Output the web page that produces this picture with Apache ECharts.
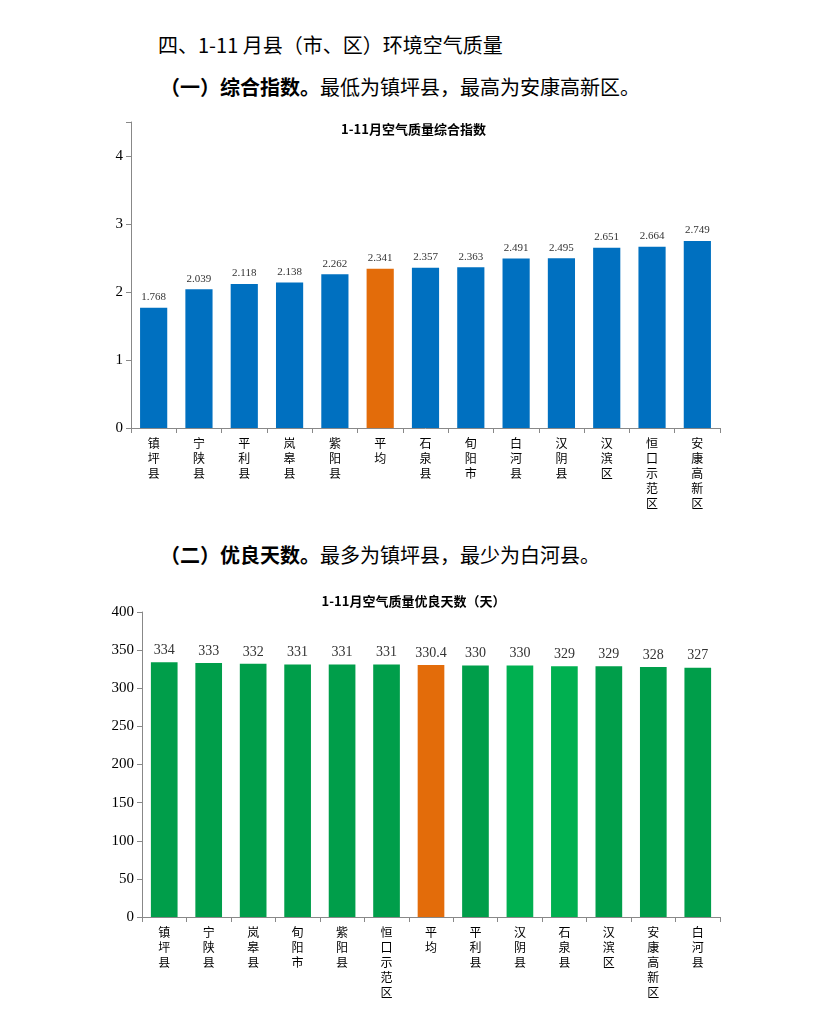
<!DOCTYPE html>
<html><head><meta charset="utf-8">
<script src="https://cdn.jsdelivr.net/npm/echarts@6/dist/echarts.min.js"></script>
<style>
body{margin:0;width:827px;height:1018px;background:#fff;position:relative;font-family:"Noto Sans CJK SC";color:#000;overflow:hidden}
.t{position:absolute;font-size:20px;white-space:nowrap}
#c1{position:absolute;left:0;top:110px;width:827px;height:410px}
#c2{position:absolute;left:0;top:588px;width:827px;height:425px}
</style></head><body>
<div class="t" style="left:158px;top:30px">四、1-11 月县（市、区）环境空气质量</div>
<div class="t" style="left:160px;top:72px"><b>（一）综合指数。</b>最低为镇坪县，最高为安康高新区。</div>
<div class="t" style="left:160px;top:540px"><b>（二）优良天数。</b>最多为镇坪县，最少为白河县。</div>
<div id="c1"></div>
<div id="c2"></div>
<script>
const indexCats = ['镇坪县','宁陕县','平利县','岚皋县','紫阳县','平均','石泉县','旬阳市','白河县','汉阴县','汉滨区','恒口示范区','安康高新区']
const indexVals = [1.768,2.039,2.118,2.138,2.262,2.341,2.357,2.363,2.491,2.495,2.651,2.664,2.749]
const dayCats = ['镇坪县','宁陕县','岚皋县','旬阳市','紫阳县','恒口示范区','平均','平利县','汉阴县','石泉县','汉滨区','安康高新区','白河县']
const dayVals = [334,333,332,331,331,331,330.4,330,330,329,329,328,327]

function vert(s) { return s.split('').join('\n') }

function makeOption(title, cats, vals, color, yMax, interval, grid, fmt) {
  return {
    animation: false,
    title: { text: title, left: 'center', top: grid.titleTop,
      textStyle: { fontSize: 13, fontWeight: 'bold', fontFamily: 'Noto Sans CJK SC', color: '#000' } },
    grid: grid.g,
    xAxis: {
      type: 'category', data: cats,
      axisLine: { lineStyle: { color: '#888' } },
      axisTick: { show: true, length: 5, lineStyle: { color: '#888' } },
      axisLabel: { interval: 0, color: '#000', fontSize: 12, lineHeight: 15,
        fontFamily: 'Noto Sans CJK SC', formatter: vert }
    },
    yAxis: {
      type: 'value', min: 0, max: yMax, interval: interval,
      axisLine: { show: true, lineStyle: { color: '#888' } },
      axisTick: { show: true, length: 5, lineStyle: { color: '#888' } },
      splitLine: { show: false },
      axisLabel: { color: '#000', fontSize: 15, fontFamily: 'Liberation Serif',
        formatter: v => (v % interval === 0 ? v : '') }
    },
    series: [{
      type: 'bar', data: vals, barWidth: '60%',
      itemStyle: { color: p => color(p.name) },
      label: { show: true, position: 'top', color: '#333', fontSize: grid.lblSize,
        fontFamily: 'Liberation Serif', formatter: fmt }
    }]
  }
}

echarts.init(document.getElementById('c1')).setOption(makeOption(
  '1-11月空气质量综合指数', indexCats, indexVals,
  n => n === '平均' ? '#E36C0A' : '#0070C0', 4.5, 1,
  { titleTop: 8, lblSize: 11, g: { left: 131, right: 107, top: 12, bottom: 92 } },
  p => p.value.toFixed(3)))

echarts.init(document.getElementById('c2')).setOption(makeOption(
  '1-11月空气质量优良天数（天）', dayCats, dayVals,
  n => n === '平均' ? '#E36C0A' : (n === '汉阴县' || n === '石泉县' ? '#00B050' : '#009E4A'), 400, 50,
  { titleTop: 2, lblSize: 14, g: { left: 142, right: 107, top: 24, bottom: 96 } },
  p => String(p.value)))
</script>
</body></html>
